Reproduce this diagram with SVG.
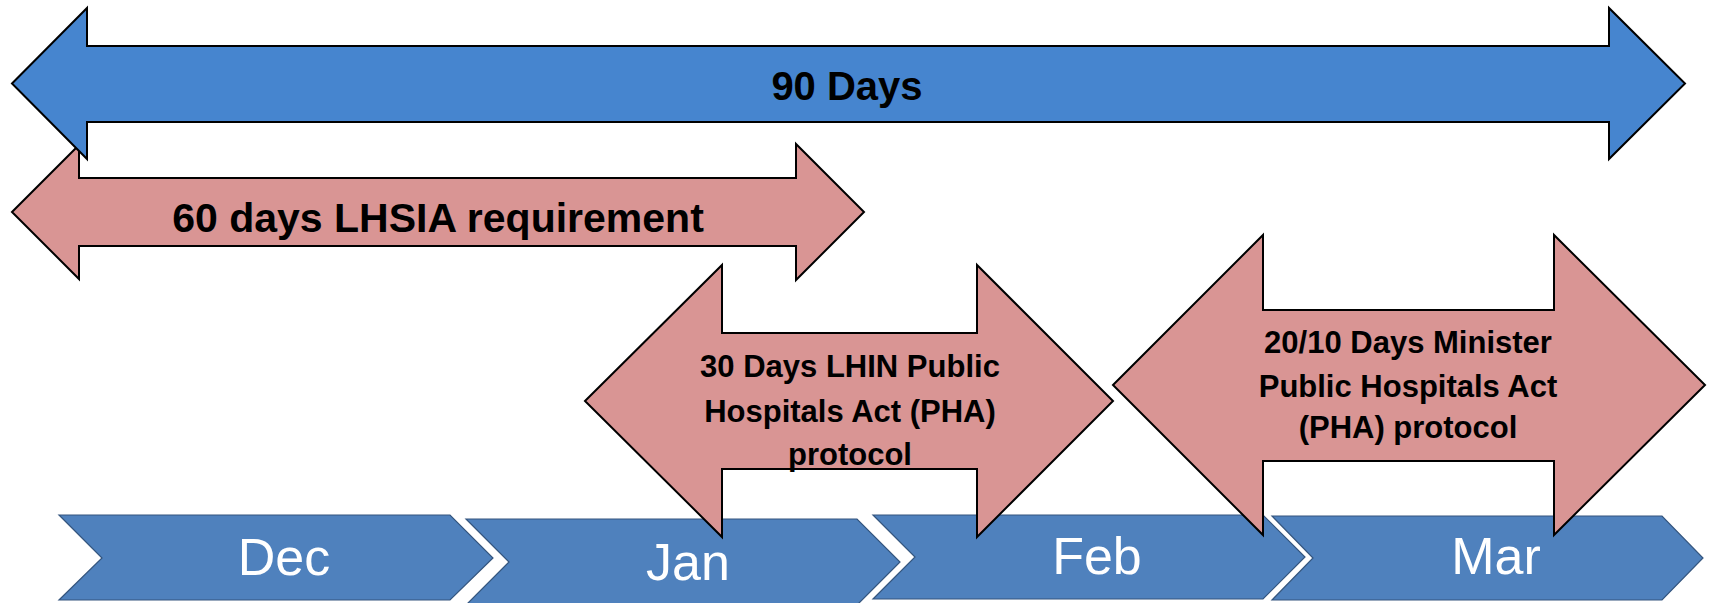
<svg xmlns="http://www.w3.org/2000/svg" width="1712" height="603" viewBox="0 0 1712 603">
<style>
.chev{fill:#4F81BD;stroke:#34557E;stroke-width:1.2}
.pink{fill:#D99594;stroke:#000;stroke-width:2;stroke-linejoin:miter}
.blue{fill:#4685CF;stroke:#000;stroke-width:2}
.lbl{font-family:"Liberation Sans",Arial,sans-serif;font-weight:bold;fill:#000;text-anchor:middle}
.mon{font-family:"Liberation Sans",Arial,sans-serif;font-size:52px;fill:#fff;text-anchor:middle}
</style>
<rect width="1712" height="603" fill="#fff"/>
<g id="months">
<g id="dec"><polygon class="chev" points="59,515 450,515 493,558 450,600 59,600 102,558"/><text class="mon" x="284" y="575">Dec</text></g>
<g id="jan"><polygon class="chev" points="466,519 857,519 900,562 857,605 466,605 509,562"/><text class="mon" x="688" y="580">Jan</text></g>
<g id="feb"><polygon class="chev" points="873,515 1263,515 1305,557 1263,599 873,599 915,557"/><text class="mon" x="1097" y="574">Feb</text></g>
<g id="mar"><polygon class="chev" points="1272,516 1662,516 1703,558 1662,600 1272,600 1313,558"/><text class="mon" x="1496" y="574">Mar</text></g>
</g>
<g id="arrow60"><polygon class="pink" points="12,212 79,145 79,178 796,178 796,144 864,212 796,280 796,246 79,246 79,279"/><text class="lbl" x="438" y="232" font-size="41">60 days LHSIA requirement</text></g>
<g id="arrow30"><polygon class="pink" points="585,401 722,265 722,333 977,333 977,265 1113,401 977,537 977,469 722,469 722,537"/>
<text class="lbl" font-size="31"><tspan x="850" y="377">30 Days LHIN Public</tspan><tspan x="850" y="422">Hospitals Act (PHA)</tspan><tspan x="850" y="465">protocol</tspan></text></g>
<g id="arrow2010"><polygon class="pink" points="1113,385 1263,235 1263,310 1554,310 1554,235 1705,385 1554,535 1554,461 1263,461 1263,535"/>
<text class="lbl" font-size="31"><tspan x="1408" y="353">20/10 Days Minister</tspan><tspan x="1408" y="397">Public Hospitals Act</tspan><tspan x="1408" y="438">(PHA) protocol</tspan></text></g>
<g id="arrow90"><polygon class="blue" points="12,83.5 87,8 87,46 1609,46 1609,8 1685,83.5 1609,159 1609,122 87,122 87,159"/><text class="lbl" x="847" y="100" font-size="40">90 Days</text></g>
</svg>
